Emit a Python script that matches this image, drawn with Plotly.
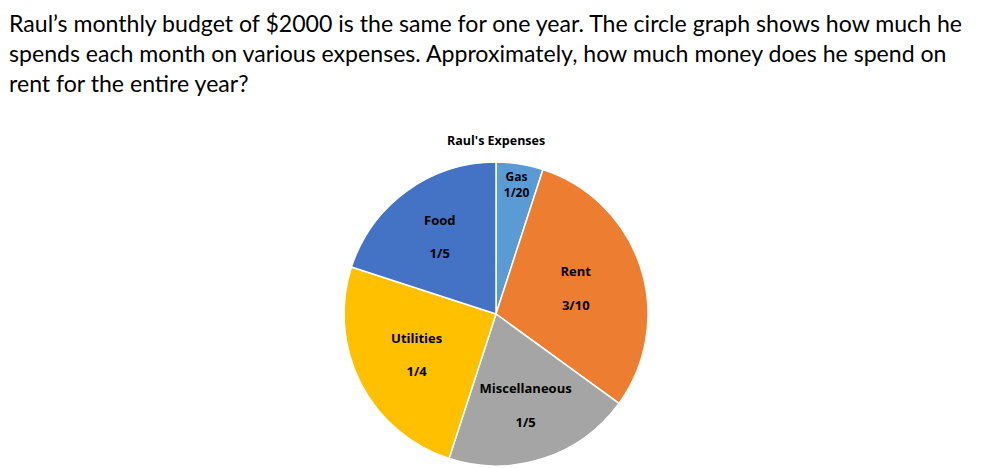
import plotly.graph_objects as go

# slices, clockwise from 12 o'clock
expenses = ["Gas", "Rent", "Miscellaneous", "Utilities", "Food"]
fractions = [1 / 20, 3 / 10, 1 / 5, 1 / 4, 1 / 5]
fraction_labels = ["1/20", "3/10", "1/5", "1/4", "1/5"]
slice_colors = ["#5B9BD5", "#ED7D31", "#A5A5A5", "#FFC000", "#4472C4"]

question = ("Raul’s monthly budget of $2000 is the same for one year. The circle graph shows how much he<br>"
            "spends each month on various expenses. Approximately, how much money does he spend on<br>"
            "rent for the entire year?")

# gas slice is thin, so no blank line between name and fraction
texts = []
for name, frac in zip(expenses, fraction_labels):
    gap = "<br>" if name == "Gas" else "<br><br>"
    texts.append("<b>" + name + "</b>" + gap + "<b>" + frac + "</b>")

W, H = 984, 468
off = 8  # page body margin shifts the plot by 8px
cx, cy, r = 496 - off, 314 - off, 152

pie = go.Pie(
    labels=expenses,
    values=fractions,
    text=texts,
    textinfo="text",
    textposition="inside",
    insidetextorientation="horizontal",
    textfont=dict(family="Open Sans", size=13, color="black"),
    marker=dict(colors=slice_colors, line=dict(color="white", width=1.5)),
    sort=False,
    direction="clockwise",
    rotation=0,
    hoverinfo="label+percent",
    domain=dict(x=[(cx - r) / W, (cx + r) / W], y=[(H - cy - r) / H, (H - cy + r) / H]),
)

fig = go.Figure(data=[pie])
fig.update_layout(
    width=W,
    height=H,
    margin=dict(l=0, r=0, t=0, b=0),
    paper_bgcolor="white",
    showlegend=False,
    annotations=[
        dict(text=question, x=0, y=1, xref="paper", yref="paper",
             xanchor="left", yanchor="top", align="left", showarrow=False, borderpad=0,
             font=dict(family="Lato", size=23.1, color="black")),
        dict(text="<b>Raul's Expenses</b>", x=cx / W, y=1 - (140 - off) / H, xref="paper", yref="paper",
             xanchor="center", yanchor="middle", showarrow=False,
             font=dict(family="Open Sans", size=12.5, color="black")),
    ],
)

fig.write_html("out.html")
